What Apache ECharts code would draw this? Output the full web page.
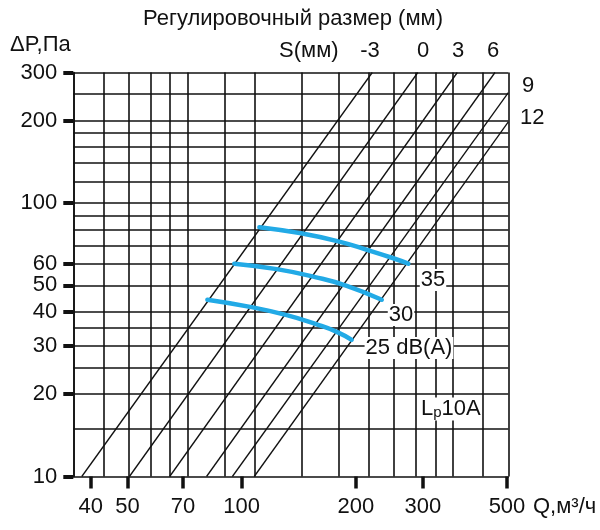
<!DOCTYPE html>
<html>
<head>
<meta charset="utf-8">
<script src="https://cdn.jsdelivr.net/npm/echarts@6.0.0/dist/echarts.min.js"></script>
<style>
html,body{margin:0;padding:0;background:#fff;}
#chart{width:600px;height:530px;}
</style>
</head>
<body>
<div id="chart"></div>
<script>
// ---- data ----
const xGridLines = [36, 43.2, 50.4, 57.6, 64.8, 72, 90, 108, 144, 180, 216, 252, 288, 324, 360, 432, 504];
const yGridLines = [15, 20, 25, 30, 35, 40, 50, 60, 70, 80, 90, 100, 120, 140, 160, 180, 200, 250, 300];
const xTickValues = [40, 50, 70, 100, 200, 300, 500];
const yTickValues = [10, 20, 30, 40, 50, 60, 100, 200, 300];
const sLabels = ['-3', '0', '3', '6', '9', '12'];
const sLineStart = [[37.9, 10], [50.6, 10], [64.6, 10], [80.8, 10], [94.5, 10], [107.9, 10]];
const sLineEnd = [[220.8, 300], [291.1, 300], [369.9, 300], [464.9, 300], [504, 253], [504, 198]];
const noiseLabels = ['35', '30', '25 dB(A)'];
const noise35 = [[111.3, 81.6], [142.4, 77.6], [179.7, 72.4], [217.8, 66.9], [250.9, 62.8], [274.8, 60.0]];
const noise30 = [[95.6, 60.0], [123.7, 57.3], [156.1, 53.6], [189.1, 49.8], [233.9, 44.3]];
const noise25 = [[81.2, 44.3], [105.2, 41.7], [131.4, 38.9], [157.6, 36.0], [178.0, 33.8], [194.9, 31.6]];

const FONT = '"Liberation Sans", Arial, sans-serif';
const INK = '#111';
const BLUE = '#22aae6';

const chart = echarts.init(document.getElementById('chart'), null, {renderer: 'canvas'});

const series = [];
series.push({
  name: 'grid', type: 'line', data: [[36, 10]], symbol: 'none', silent: true, z: 1,
  lineStyle: {opacity: 0},
  markLine: {
    silent: true, symbol: ['none', 'none'], animation: false,
    label: {show: false},
    lineStyle: {color: INK, width: 1.6, type: 'solid'},
    data: xGridLines.map(v => ({xAxis: v})).concat(yGridLines.map(v => ({yAxis: v})))
  }
});
sLabels.forEach((s, i) => {
  series.push({
    name: 'S ' + s, type: 'line', data: [sLineStart[i], sLineEnd[i]],
    symbol: 'none', silent: true, z: 2,
    lineStyle: {color: INK, width: 1.3}
  });
});
[noise35, noise30, noise25].forEach((d, i) => {
  series.push({
    name: noiseLabels[i], type: 'line', data: d, smooth: 0.5,
    symbol: 'none', silent: true, z: 5,
    lineStyle: {color: BLUE, width: 4.5, cap: 'round'}
  });
});

const txt = (text, x, y, opt) => Object.assign({
  type: 'text', x: x, y: y, z: 100,
  style: Object.assign({text: text, font: '22px ' + FONT, fill: INK, textVerticalAlign: 'middle'}, opt || {})
});

const sTopX = [370, 423, 458, 493];
const graphics = [
  txt('Регулировочный размер (мм)', 293, 19, {textAlign: 'center'}),
  txt('ΔP,Па', 10, 45, {}),
  txt('S(мм)', 279, 51, {}),
  txt(sLabels[4], 522, 86, {}),
  txt(sLabels[5], 520, 118, {}),
  txt('Q,м³/ч', 533, 507, {font: '22px ' + FONT}),
  txt(noiseLabels[0], 433, 280, {textAlign: 'center', backgroundColor: '#fff', padding: [0, 1]}),
  txt(noiseLabels[1], 401, 315, {textAlign: 'center', backgroundColor: '#fff', padding: [0, 1]}),
  txt(noiseLabels[2], 409, 348, {textAlign: 'center', backgroundColor: '#fff', padding: [0, 1]}),
  {type: 'text', x: 421, y: 409, z: 100,
   style: {rich: {a: {font: '22px ' + FONT, fill: INK}, b: {font: '15px ' + FONT, fill: INK, padding: [8, 0, 0, 0]}},
           text: '{a|L}{b|p}{a|10A}', textVerticalAlign: 'middle', backgroundColor: '#fff'}}
];
for (let i = 0; i < 4; i++) graphics.push(txt(sLabels[i], sTopX[i], 51, {textAlign: 'center'}));

const axisCommon = {
  type: 'log', logBase: 10,
  axisLine: {show: true, lineStyle: {color: INK, width: 1.6}},
  splitLine: {show: false}, minorTick: {show: false}, minorSplitLine: {show: false}
};

chart.setOption({
  animation: false,
  backgroundColor: '#fff',
  grid: {left: 73.3, right: 91.7, top: 72.5, bottom: 53.5, containLabel: false},
  xAxis: Object.assign({}, axisCommon, {
    min: 36, max: 504,
    axisTick: {show: true, customValues: xTickValues, length: 12, lineStyle: {color: INK, width: 3.5}},
    axisLabel: {customValues: xTickValues, margin: 19, fontSize: 22, color: INK, fontFamily: FONT, showMinLabel: true, showMaxLabel: true}
  }),
  yAxis: Object.assign({}, axisCommon, {
    min: 10, max: 300,
    axisTick: {show: true, customValues: yTickValues, length: 10, lineStyle: {color: INK, width: 4}},
    axisLabel: {customValues: yTickValues, margin: 16, fontSize: 22, color: INK, fontFamily: FONT, showMinLabel: true, showMaxLabel: true}
  }),
  series: series,
  graphic: graphics
});
</script>
</body>
</html>
